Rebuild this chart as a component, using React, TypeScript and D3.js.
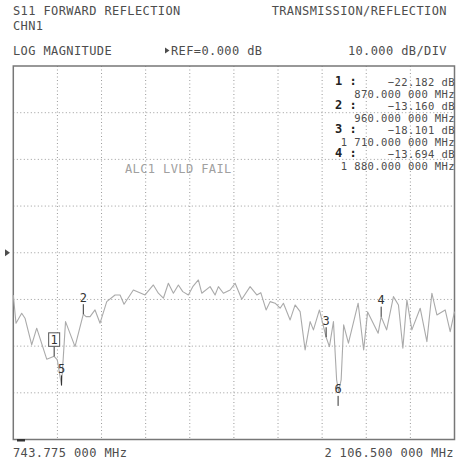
import React from 'react';
import * as d3 from 'd3';

// stimulus span (MHz) and response scale (dB)
const START_MHZ = 743.775;
const STOP_MHZ = 2106.5;
const REF_DB = 0;
const DB_PER_DIV = 10;

// S11 trace
const traceMHz = [
  743.8, 752.1, 769.7, 779.9, 800.6, 816.1, 847.0, 870.0, 879.7, 892.7,
  905.1, 934.4, 960.0, 968.4, 980.8, 996.2, 1011.7, 1032.4, 1058.0, 1073.5,
  1085.8, 1114.6, 1150.7, 1176.4, 1191.8, 1207.3, 1222.7, 1238.2, 1253.6, 1267.2,
  1284.5, 1298.1, 1315.4, 1325.9, 1351.6, 1367.0, 1377.2, 1392.7, 1413.4, 1428.9,
  1449.5, 1475.2, 1495.9, 1508.2, 1524.6, 1537.0, 1552.4, 1567.9, 1578.1, 1598.8,
  1614.2, 1629.7, 1645.1, 1660.6, 1670.8, 1689.3, 1710.0, 1720.2, 1732.6, 1742.4,
  1748.6, 1756.4, 1764.1, 1778.9, 1808.9, 1825.9, 1838.2, 1870.7, 1880.0, 1896.9,
  1917.9, 1933.4, 1947.0, 1959.4, 1974.8, 2000.5, 2021.2, 2036.6, 2052.1, 2077.7,
  2093.2, 2106.5,
];
const traceDb = [
  -9.04, -15.09, -12.95, -14.02, -19.73, -16.16, -22.79, -22.18, -22.94, -28.40,
  -14.75, -20.10, -13.16, -13.68, -13.68, -12.25, -15.09, -10.47, -9.04, -9.04,
  -11.03, -7.97, -9.04, -6.90, -8.67, -9.74, -6.53, -8.67, -6.90, -8.33,
  -9.04, -7.26, -5.83, -8.67, -7.26, -9.04, -7.26, -8.67, -7.97, -6.53,
  -9.96, -7.26, -9.04, -8.55, -12.25, -10.47, -10.81, -11.88, -10.81, -14.39,
  -11.18, -12.61, -20.80, -14.75, -16.52, -12.25, -18.10, -20.10, -14.75, -27.22,
  -29.72, -27.22, -15.45, -19.37, -10.81, -20.80, -12.67, -17.23, -13.69, -16.52,
  -9.40, -11.18, -20.44, -10.11, -16.52, -11.88, -19.03, -8.67, -13.32, -12.25,
  -16.89, -12.61,
];

// markers
const markerIds = [1, 2, 3, 4, 5, 6];
const markerMHz = [870, 960, 1710, 1880, 892.7, 1747];
const markerDb = [-22.182, -13.16, -18.101, -13.694, -28.4, -32.8];
const activeMarker = 1;
const tableCount = 4;

const W = 460;
const H = 462;
const FONT = '"DejaVu Sans Mono", "Liberation Mono", monospace';
const INK = '#4d4d4d';

const fmtMHz = (f: number) => {
  const s = f.toFixed(6);
  const [ip, fp] = s.split('.');
  const intPart = ip.replace(/\B(?=(\d{3})+(?!\d))/g, ' ');
  return `${intPart}.${fp.slice(0, 3)} ${fp.slice(3)} MHz`;
};

const App: React.FC = () => {
  const x = d3.scaleLinear().domain([START_MHZ, STOP_MHZ]).range([13.3, 454.5]);
  const y = d3.scaleLinear()
    .domain([REF_DB + 4 * DB_PER_DIV, REF_DB - 4 * DB_PER_DIV])
    .range([66, 439.5]);

  const vGrid = d3.range(1, 10).map(i => START_MHZ + (i * (STOP_MHZ - START_MHZ)) / 10);
  const hGrid = d3.range(-3, 4).map(i => REF_DB + i * DB_PER_DIV);

  const pts = traceMHz.map((f, i) => [f, traceDb[i]] as [number, number]);
  const line = d3.line<[number, number]>().x(d => x(d[0])).y(d => y(d[1]));

  const [x0, x1] = x.range();
  const [y0, y1] = y.range();

  return (
    <svg width={W} height={H} style={{ position: 'absolute', left: 0, top: 0, background: '#fff' }}>
      <rect width={W} height={H} fill="#ffffff" />

      {/* header */}
      <g fontFamily={FONT} fontSize={12} fill={INK} letterSpacing={0.4}>
        <text x={13} y={15}>S11 FORWARD REFLECTION</text>
        <text x={447} y={15} textAnchor="end">TRANSMISSION/REFLECTION</text>
        <text x={13} y={30}>CHN1</text>
        <text x={13} y={54.5}>LOG MAGNITUDE</text>
        <text x={171} y={54.5}>REF=0.000 dB</text>
        <text x={447} y={54.5} textAnchor="end">10.000 dB/DIV</text>
      </g>
      <path d="M165,47.5 L169.5,50.5 L165,53.5 Z" fill={INK} />

      {/* graticule */}
      <g stroke="#9a9a9a" strokeWidth={1} strokeDasharray="1,2.5">
        {vGrid.map((f, i) => (
          <line key={'v' + i} x1={x(f)} x2={x(f)} y1={y0} y2={y1} />
        ))}
        {hGrid.map((v, i) => (
          <line key={'h' + i} x1={x0} x2={x1} y1={y(v)} y2={y(v)} />
        ))}
      </g>
      <rect x={x0} y={y0} width={x1 - x0} height={y1 - y0} fill="none" stroke="#777" strokeWidth={1.5} />

      {/* reference position arrow */}
      <path d={`M5,${y(REF_DB) - 3.5} L10,${y(REF_DB)} L5,${y(REF_DB) + 3.5} Z`} fill={INK} />
      <rect x={17} y={439} width={8} height={2.5} fill="#333" />

      <text x={125} y={172.5} fontFamily={FONT} fontSize={12} fill="#a0a0a0" letterSpacing={0.4}>
        ALC1 LVLD FAIL
      </text>

      {/* trace */}
      <path d={line(pts) || ''} fill="none" stroke="#aaaaaa" strokeWidth={1.1} strokeLinejoin="round" />

      {/* markers on trace */}
      {markerIds.map((id, i) => {
        const mx = x(markerMHz[i]);
        const my = y(markerDb[i]);
        return (
          <g key={'m' + id}>
            <line x1={mx} x2={mx} y1={my - 10} y2={my} stroke="#333" strokeWidth={1} />
            {id === activeMarker && (
              <rect x={mx - 5.5} y={my - 23.5} width={11} height={13.5} fill="#fff" stroke="#555" strokeWidth={1} />
            )}
            <text x={mx} y={my - 12.5} textAnchor="middle" fontFamily={FONT} fontSize={12} fill="#333">
              {id}
            </text>
          </g>
        );
      })}

      {/* marker readout */}
      {markerIds.slice(0, tableCount).map((id, i) => {
        const by = 86 + i * 24;
        return (
          <g key={'t' + id} fontFamily={FONT} fill={INK}>
            <text x={335} y={by - 1} fontSize={12} fontWeight="bold" fill="#222">{id} :</text>
            <text x={455} y={by} fontSize={10.5} textAnchor="end" letterSpacing={0.4}>
              {d3.format('.3f')(markerDb[i])} dB
            </text>
            <text x={455} y={by + 11.5} fontSize={10.5} textAnchor="end" letterSpacing={0.4}>
              {fmtMHz(markerMHz[i])}
            </text>
          </g>
        );
      })}

      {/* stimulus limits */}
      <g fontFamily={FONT} fontSize={12} fill={INK} letterSpacing={0.4}>
        <text x={13} y={457}>{fmtMHz(START_MHZ)}</text>
        <text x={454} y={457} textAnchor="end">{fmtMHz(STOP_MHZ)}</text>
      </g>
    </svg>
  );
};

export default App;
